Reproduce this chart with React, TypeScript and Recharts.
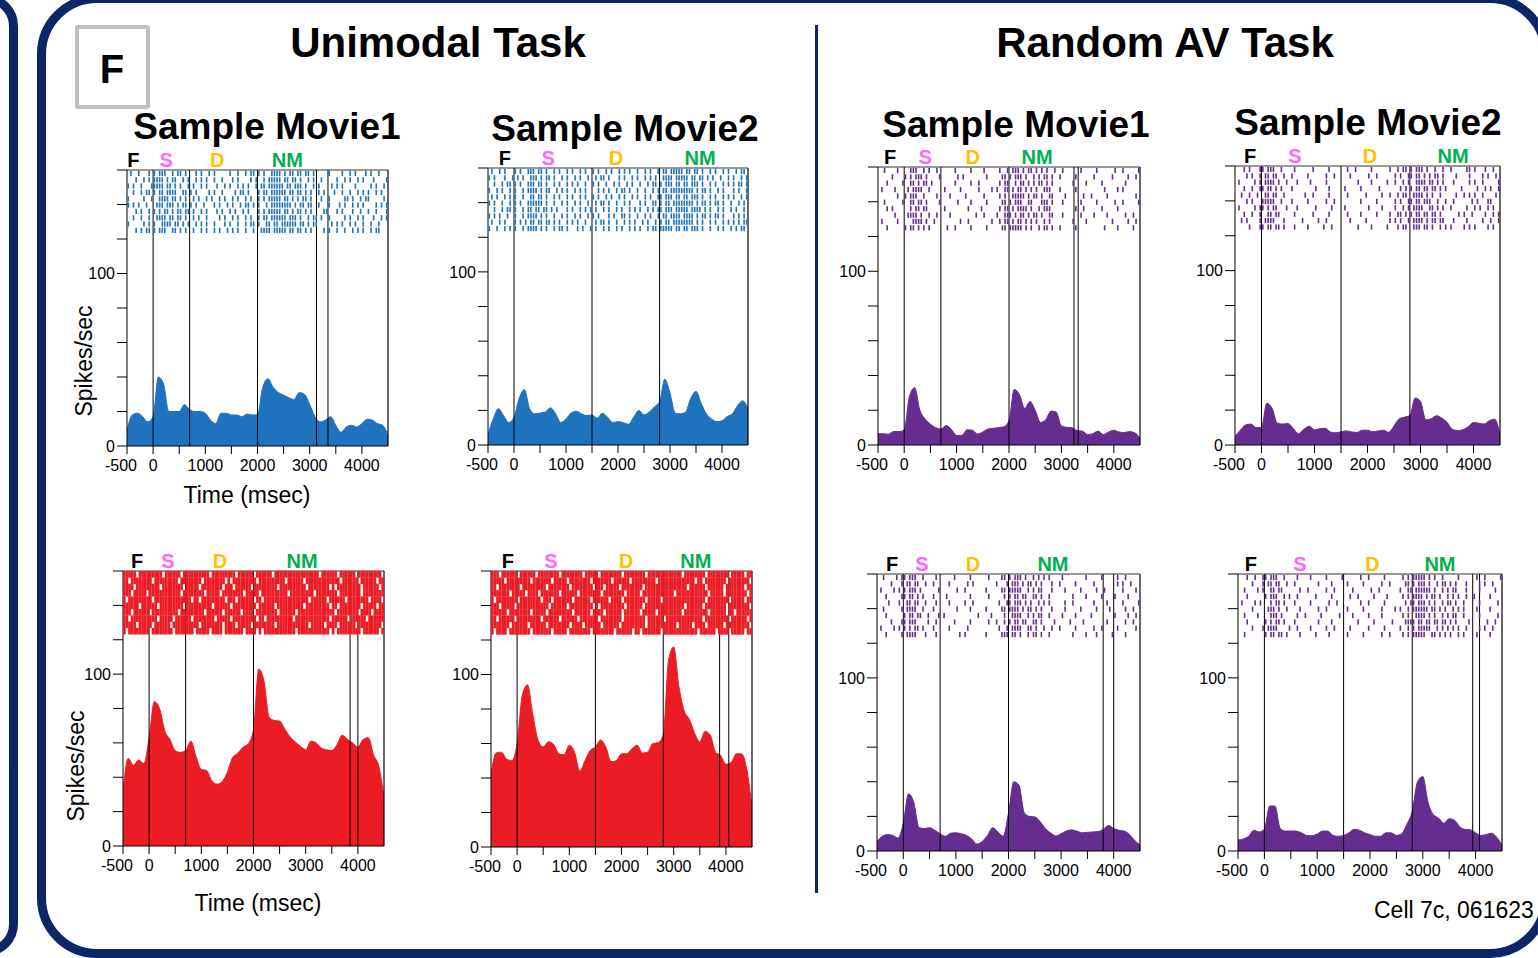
import React from 'react';
import { ComposedChart, Area, Scatter, XAxis, YAxis, ReferenceLine, ReferenceDot } from 'recharts';

// time grid of the PSTH (msec)
const TIMES = [-500, -400, -300, -200, -100, 0, 100, 200, 300, 400, 500, 600, 700, 800, 900, 1000, 1100, 1200, 1300, 1400, 1500, 1600, 1700, 1800, 1900, 2000, 2100, 2200, 2300, 2400, 2500, 2600, 2700, 2800, 2900, 3000, 3100, 3200, 3300, 3400, 3500, 3600, 3700, 3800, 3900, 4000, 4100, 4200, 4300, 4400, 4500];

// spikes/sec, one value per TIMES entry
const U1_TOP_RATE = [9, 18, 19, 17, 14, 17, 40, 36, 20, 20, 20, 24, 21, 20, 20, 19, 15, 13, 19, 19, 18, 18, 17, 18.5, 18, 18, 34, 39, 34, 31, 29.5, 28, 27, 31, 30, 24, 17, 14, 15, 17, 12, 8, 11, 12, 11, 13, 15.5, 15, 13, 12, 6];
const U2_TOP_RATE = [6, 15, 21, 17, 13, 16, 27, 32, 21, 18, 18.5, 19, 21.5, 18, 13, 15, 18.5, 19.5, 18, 17, 17.4, 15.5, 18.4, 16, 13, 13.5, 13, 12, 16, 20, 17.4, 19, 22, 25, 38, 30, 18.4, 18, 19, 27, 31, 24, 18, 15, 13.5, 14, 16.4, 18, 22.8, 25.5, 21];
const AV1_TOP_RATE = [6.5, 6.5, 6.2, 7.8, 7.7, 8.7, 28, 33, 20, 15, 12, 10, 9.2, 11.2, 9, 5.5, 5.5, 8.8, 8.5, 6.3, 7.5, 9.2, 9.6, 10, 10.5, 14, 32, 29, 21, 25, 20, 13, 14.5, 19.5, 19, 11, 10.2, 10, 8.3, 8, 6, 6.5, 8, 6, 7.5, 8.5, 7.5, 7.2, 7.7, 7, 4];
const AV2_TOP_RATE = [5, 8.5, 11.5, 12, 10, 10, 24, 21, 12.5, 12, 12.3, 9.5, 6.5, 9, 10.8, 8.7, 9.3, 9.6, 7.5, 7, 7.6, 8.1, 7.5, 7.2, 8.5, 8.5, 7.6, 8, 8.5, 7.3, 11, 15, 16, 17, 27, 25, 14.5, 15, 16.8, 15.5, 13, 9, 8.3, 8.8, 10.5, 12.9, 12.5, 12, 14, 14.8, 6];
const U1_BOT_RATE = [32, 51, 47, 50, 48, 63, 84, 80, 67, 62, 55.5, 54.5, 55.5, 61, 52, 44.5, 44, 38, 36, 37.5, 43, 51.5, 54, 57.5, 59.5, 68, 103, 96, 75, 73, 72.7, 68, 63.5, 60.5, 58, 56, 61, 60, 57, 56, 55.5, 59, 64.5, 62, 60, 57.5, 62, 63, 53, 46.5, 28];
const U2_BOT_RATE = [42.5, 54.5, 55, 51, 50, 60, 88, 94, 77, 62, 58, 61, 59.5, 54, 53.5, 59, 55, 44, 50, 56, 58, 62, 58, 49.5, 50, 54, 54, 57, 59, 54.5, 55, 60, 60.5, 65, 108, 116, 93, 79, 74, 66, 61, 67, 65, 55, 53, 48, 49, 54, 54, 45, 23];
const AV1_BOT_RATE = [5.5, 8.5, 9.5, 9, 7.5, 16, 33, 28, 13.5, 13, 13.4, 12, 10, 8.5, 10.3, 10.5, 10, 9, 7, 4, 5.5, 9, 13.5, 11, 8.5, 22, 40, 38, 22, 20, 19.7, 17, 13, 10.5, 8.7, 10, 11.5, 12.2, 11.5, 10.5, 10.8, 11, 11.2, 12.5, 14.8, 13, 12, 11.5, 9.5, 6, 3.6];
const AV2_BOT_RATE = [6.3, 7, 8.5, 12, 11, 12.5, 26, 26, 13, 11.5, 11.6, 11.5, 10.5, 9, 8.8, 9.8, 11.5, 11.5, 9, 8.5, 9, 10.5, 12.5, 12, 10.5, 9.5, 8.5, 8.5, 10.5, 10.5, 9, 10, 15.5, 23, 40, 43, 28, 21, 19, 16, 18.7, 17.8, 14, 12.5, 12.3, 10.5, 9, 9.5, 10.3, 8, 3.4];

// raster trials: each hex digit = four 50 ms bins (msb first), from -500 to 4500
const U1_TOP_RASTER = [
  '48ae5a294125a9eb6d0425148', '12bd652a48a14beda52094a21', 'a47da94a252a5bf6e942a1052', '25ade6a1485a2dfb6a5124a94', '824f6a5294a52bed5a241a582',
  'a91dd6a45296a5feb64452a15', '14ab5b4a294a2bed6a18a2491', '249eda5214a52dfba5a414a25', '82a7b52a4525a6dfb582a5248', '15ae6a4a52a49efb6a1492a58',
];
const U2_TOP_RASTER = [
  '4a29da5294a52a4a5beda5296', 'a254eb4a525a294a9efb6a4a5', '25a9da52a4a4a525aedba52ad', '94a5eb2a542a5a495bfeb4a29', '52a4da5294a5294a6edba52a5',
  'a4a9fa4a525a4a29adfeb5a4a', '25a5b6a2954a52a56efbd4a52', 'a925ea4a52a29a4a5bdeb5a2a', '4a2adb52a45a4a94adfea52ab', '92a5ea5a294a52a5bedba4a56',
];
const AV1_TOP_RASTER = [
  '210e520410825d6a920410241', '042ba1028041ae95a41020412', '104d68041202cb56a02104020', '421790410214d6a9c41002140', '012e421040829f5a610241002',
  '204da1021041ae63a20410241', '140b60402102d7a5c01204100', '021e92100484eb5a620421024', '4107a4012012d6a9402100412', '102d50241041bea5a41002104',
];
const AV2_TOP_RASTER = [
  '146e420410241025ae9241a24', '0a5b24102410240a6d5a10852', '415e9108200210494f6a20a41', '126d440210410202adb504129', '249b2024102041259ea412a42',
  '0a3e44102401040a6dc920518', '416b1102084021095e6a41294', '124d820410210426adb40a425', '285e20412010402a5eb621049', '046da210480210459da542a14',
];
const U1_BOT_RASTER = [
  'fbfefdffbfefdfbfffefdfbfe', 'dfeffbfdfebfeffdfbffefdfb', 'f7fdfefbfddfbfeffdfebfefd', 'efbffdfefbfdf7feffbfdfeff', 'bfefffdbfeefdbfffefdfbfde',
  'fdfbfeffdfbfefdffbfedfefb', 'efdffbfefdfbdfefdfffbfdef', 'dffbefdfefbfedffbffefdfbf', 'fbefdffbfdefbfdffefbdfbfe', 'bfdfefefbdfdebffdffebfefd',
];
const U2_BOT_RASTER = [
  'efdfbfdfefbfdfefffbfdfefb', 'fbfefefbfdfdfbfefffdbfdfe', 'dfeffbfdfeefbfdfffefdfbfb', 'fefbdfdfbfdfefbffdffefbfd', 'bfdfeefefdfbdfefbfffdfefb',
  'efbffdfbfebfefdfffdfbfdfe', 'fdfefbfefdefdfbeffbfefdbf', 'dfbfefdfbfbfdfefdfffbfefd', 'fefdfbfdefdfbfeffefbdfbfe', 'bdfefefbfdfefdbfbffefdefb',
];
const AV1_BOT_RASTER = [
  '216e42041021ae95420104120', '045b241028045d6a241020148', '42ae81024041be56210412042', '106d44201020ad9a402104210', '089b221048026ea5412021041',
  '205e44021041bd6a210410824', '102d914002109e56421040212', '046e12041024ad9a104201024', '42ab441020025e69241024102', '105e22014041da5a402110420',
];
const AV2_BOT_RASTER = [
  '126e421041024102bea410241', '045b240210410241ae96a2148', '214d812048102404dfa562104', '102e520410241082bd6952410', '428b4410240241016ea5a4102',
  '041d210240410214bf6a54210', '210e8241021042029ea564102', '102b440210041021edb6a1024', '045e121048204104af9552148', '202da10420410242be6a94210',
];
const RASTER_ROW_Y = [158, 154.3, 150.7, 147, 143.3, 139.7, 136, 132.3, 128.7, 125];

// task event markers (msec)
const U1_TOP_EVENTS = [0, 700, 2000, 3130, 3350];
const U2_TOP_EVENTS = [0, 1500, 2800];
const AV1_TOP_EVENTS = [0, 700, 2000, 3240, 3320];
const AV2_TOP_EVENTS = [0, 1500, 2800];
const U1_BOT_EVENTS = [0, 700, 2000, 3850, 4000];
const U2_BOT_EVENTS = [0, 1500, 2800, 3880, 4055];
const AV1_BOT_EVENTS = [0, 700, 2000, 3800, 4000];
const AV2_BOT_EVENTS = [0, 1500, 2800, 3945, 4075];

// epoch label positions F / S / D / NM (msec)
const EPOCH_NAMES = ['F', 'S', 'D', 'NM'];
const EPOCH_COLORS = ['#000000', '#ff66ff', '#ffc000', '#00b050'];
const U1_TOP_MARKS = [-380, 250, 1230, 2570];
const U2_TOP_MARKS = [-175, 655, 1960, 3580];
const AV1_TOP_MARKS = [-270, 400, 1310, 2535];
const AV2_TOP_MARKS = [-215, 630, 2045, 3615];
const U1_BOT_MARKS = [-230, 360, 1360, 2930];
const U2_BOT_MARKS = [-175, 650, 2085, 3425];
const AV1_BOT_MARKS = [-215, 355, 1325, 2845];
const AV2_BOT_MARKS = [-255, 675, 2040, 3325];

const X_TICKS = [-500, 0, 500, 1000, 1500, 2000, 2500, 3000, 3500, 4000];
const Y_TICKS = [0, 20, 40, 60, 80, 100, 120, 140, 160];

const BLUE = '#1f72bd';
const RED = '#ec1c24';
const PURPLE = '#662d91';
const NAVY = '#0b2566';
const FONT = "'Liberation Sans', Arial, sans-serif";

// plot boxes: [left(-500), right(4500), top(160), bottom(0)] in page pixels
const PANELS = [
  { rate: U1_TOP_RATE, raster: U1_TOP_RASTER, events: U1_TOP_EVENTS, marks: U1_TOP_MARKS, color: BLUE, tick: 1.6, tickH: 5.2, box: [127, 388, 170, 446] },
  { rate: U2_TOP_RATE, raster: U2_TOP_RASTER, events: U2_TOP_EVENTS, marks: U2_TOP_MARKS, color: BLUE, tick: 1.6, tickH: 5.2, box: [488, 748, 168, 445] },
  { rate: AV1_TOP_RATE, raster: AV1_TOP_RASTER, events: AV1_TOP_EVENTS, marks: AV1_TOP_MARKS, color: PURPLE, tick: 1.6, tickH: 5.2, box: [878, 1140, 167, 445] },
  { rate: AV2_TOP_RATE, raster: AV2_TOP_RASTER, events: AV2_TOP_EVENTS, marks: AV2_TOP_MARKS, color: PURPLE, tick: 1.6, tickH: 5.2, box: [1235, 1500, 166, 445] },
  { rate: U1_BOT_RATE, raster: U1_BOT_RASTER, events: U1_BOT_EVENTS, marks: U1_BOT_MARKS, color: RED, tick: 2.7, tickH: 6.6, box: [123, 384, 571, 846] },
  { rate: U2_BOT_RATE, raster: U2_BOT_RASTER, events: U2_BOT_EVENTS, marks: U2_BOT_MARKS, color: RED, tick: 2.7, tickH: 6.6, box: [491, 752, 571, 847] },
  { rate: AV1_BOT_RATE, raster: AV1_BOT_RASTER, events: AV1_BOT_EVENTS, marks: AV1_BOT_MARKS, color: PURPLE, tick: 1.6, tickH: 5.2, box: [877, 1140, 574, 851] },
  { rate: AV2_BOT_RATE, raster: AV2_BOT_RASTER, events: AV2_BOT_EVENTS, marks: AV2_BOT_MARKS, color: PURPLE, tick: 1.6, tickH: 5.2, box: [1238, 1502, 574, 851] },
];

const fmtX = (v: number) => (v === -500 || v % 1000 === 0 ? String(v) : '');
const fmtY = (v: number) => (v === 0 || v === 100 ? String(v) : '');

function spikesOf(raster: string[]) {
  const out: { t: number; y: number }[] = [];
  raster.forEach((row, r) => {
    for (let i = 0; i < row.length; i++) {
      const bits = parseInt(row[i], 16);
      for (let b = 0; b < 4; b++) {
        if (bits & (8 >> b)) out.push({ t: -500 + (i * 4 + b) * 50 + 25, y: RASTER_ROW_Y[r] });
      }
    }
  });
  return out;
}

// x tick text; the -500 label sits a little left of its tick like the original
const XTick = (props: any) => {
  const { x, y, payload } = props;
  const v = payload.value;
  return (
    <text x={x + (v === -500 ? -6 : 0)} y={y} dy="0.71em" textAnchor="middle" fontSize={16} fill="#000">
      {fmtX(v)}
    </text>
  );
};

const ML = 60, MT = 28, MR = 12, XH = 44;

function Panel({ p }: { p: any }) {
  const [left, right, top, bottom] = p.box;
  const w = right - left + ML + MR;
  const h = bottom - top + MT + XH;
  const data = TIMES.map((t, i) => ({ t, v: p.rate[i] }));
  const spikes = spikesOf(p.raster);
  return (
    <div style={{ position: 'absolute', left: left - ML, top: top - MT }}>
      <ComposedChart width={w} height={h} data={data} margin={{ top: MT, right: MR, bottom: 0, left: 0 }}>
        <XAxis dataKey="t" type="number" domain={[-500, 4500]} allowDataOverflow ticks={X_TICKS} interval={0}
          tick={<XTick />} tickSize={8} tickMargin={6} height={XH} stroke="#000" />
        <YAxis type="number" domain={[0, 160]} allowDataOverflow ticks={Y_TICKS} interval={0}
          tickFormatter={fmtY} tickSize={10} tickMargin={2} width={ML} stroke="#000" tick={{ fontSize: 16, fill: '#000' }} />
        <Area dataKey="v" type="monotone" fill={p.color} fillOpacity={1} stroke={p.color} strokeWidth={1} isAnimationActive={false} />
        <Scatter data={spikes} dataKey="y" fill={p.color} isAnimationActive={false}
          shape={(s: any) => <rect x={s.cx - p.tick / 2} y={s.cy - p.tickH / 2} width={p.tick} height={p.tickH} fill={p.color} />} />
        <ReferenceLine y={160} stroke="#333" strokeWidth={1.2} />
        <ReferenceLine x={4500} stroke="#000" strokeWidth={1.2} />
        {p.events.map((e: number) => (
          <ReferenceLine key={e} x={e} stroke="#000" strokeWidth={1} />
        ))}
        {p.marks.map((m: number, i: number) => (
          <ReferenceDot key={i} x={m} y={160} r={1} fill="none" stroke="none" ifOverflow="visible"
            label={{ value: EPOCH_NAMES[i], position: 'top', offset: 2, fill: EPOCH_COLORS[i], fontSize: 20, fontWeight: 700 }} />
        ))}
      </ComposedChart>
    </div>
  );
}

function Txt({ x, y, size, bold, children }: { x: number; y: number; size: number; bold?: boolean; children: React.ReactNode }) {
  return (
    <div style={{
      position: 'absolute', left: x, top: y - size * 0.8465, fontSize: size, lineHeight: 1,
      fontWeight: bold ? 700 : 400, whiteSpace: 'nowrap', transform: 'translateX(-50%)', color: '#000',
    }}>{children}</div>
  );
}

function VTxt({ x, y, size, children }: { x: number; y: number; size: number; children: React.ReactNode }) {
  return (
    <div style={{
      position: 'absolute', left: x, top: y, fontSize: size, lineHeight: 1, whiteSpace: 'nowrap',
      transform: 'translate(-50%, -50%) rotate(-90deg)', color: '#000',
    }}>{children}</div>
  );
}

export default function App() {
  return (
    <div style={{ position: 'absolute', left: 0, top: 0, width: 1538, height: 958, overflow: 'hidden', background: '#fff', fontFamily: FONT }}>
      {/* frames */}
      <div style={{ position: 'absolute', left: -120, top: -6, width: 138, height: 962, border: `9px solid ${NAVY}`, borderRadius: 32, boxSizing: 'border-box' }} />
      <div style={{ position: 'absolute', left: 37, top: -6, width: 1513, height: 964, border: `9px solid ${NAVY}`, borderRadius: 60, boxSizing: 'border-box' }} />
      <div style={{ position: 'absolute', left: 815, top: 25, width: 3, height: 868, background: NAVY }} />
      <div style={{ position: 'absolute', left: 75, top: 25, width: 75, height: 84, border: '4px solid #bfbfbf', borderRadius: 3, boxSizing: 'border-box' }} />
      <Txt x={112} y={83} size={40} bold>F</Txt>

      <Txt x={438} y={58} size={42} bold>Unimodal Task</Txt>
      <Txt x={1165} y={58} size={42} bold>Random AV Task</Txt>
      <Txt x={267} y={139} size={37} bold>Sample Movie1</Txt>
      <Txt x={625} y={141} size={37} bold>Sample Movie2</Txt>
      <Txt x={1016} y={137} size={37} bold>Sample Movie1</Txt>
      <Txt x={1368} y={135} size={37} bold>Sample Movie2</Txt>

      {PANELS.map((p, i) => <Panel key={i} p={p} />)}

      <VTxt x={84} y={361} size={23}>Spikes/sec</VTxt>
      <VTxt x={76} y={766} size={23}>Spikes/sec</VTxt>
      <Txt x={247} y={503} size={23}>Time (msec)</Txt>
      <Txt x={258} y={911} size={23}>Time (msec)</Txt>
      <div style={{ position: 'absolute', left: 1374, top: 918 - 23 * 0.8465, fontSize: 23, lineHeight: 1, whiteSpace: 'nowrap' }}>Cell 7c, 061623</div>
    </div>
  );
}
